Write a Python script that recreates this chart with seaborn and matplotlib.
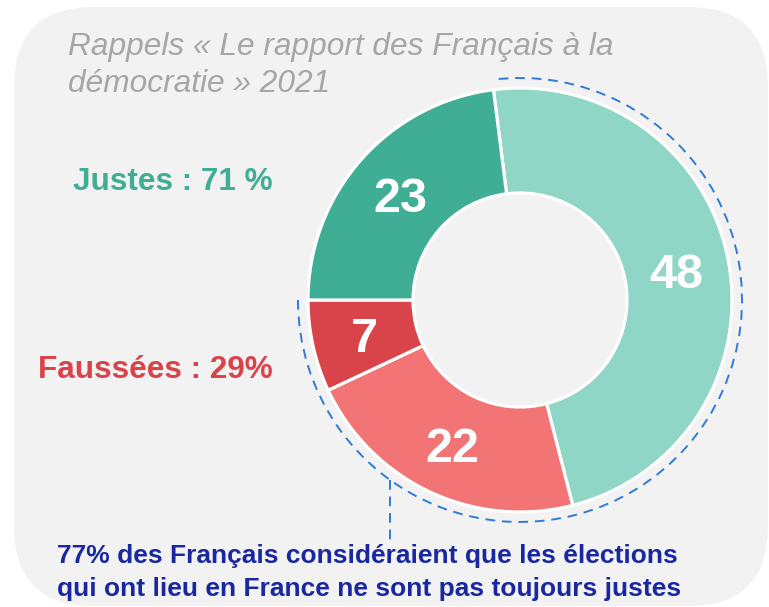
import matplotlib
matplotlib.use("Agg")
import matplotlib.pyplot as plt
import seaborn as sns
import numpy as np
from matplotlib.patches import FancyBboxPatch, Arc

# ---- data ----
segments = ["Toujours justes", "Pas toujours justes", "Faussées souvent", "Justes (autre)"]
values = [48, 22, 7, 23]
seg_colors = ["#8fd6c6", "#f27475", "#d9434a", "#3fae95"]
title_lines = ["Rappels « Le rapport des Français à la", "démocratie » 2021"]
justes_label = "Justes : 71 %"
faussees_label = "Faussées : 29%"
note_lines = ["77% des Français considéraient que les élections",
              "qui ont lieu en France ne sont pas toujours justes"]
highlight_share = 77  # % covered by the dashed arc

sns.set_theme(style="white")
plt.rcParams['font.family'] = ['Liberation Sans', 'DejaVu Sans']

W, H = 769, 607
fig = plt.figure(figsize=(W / 100, H / 100), dpi=100)
fig.patch.set_facecolor("white")
ax = fig.add_axes([0, 0, 1, 1])
ax.set_xlim(0, W)
ax.set_ylim(0, H)
ax.set_aspect("equal")
ax.axis("off")

def Y(y):
    return H - y

# background rounded panel
bg = FancyBboxPatch((14 + 80, Y(606) + 80), (768 - 14) - 160, (606 - 7) - 160,
                    boxstyle="round,pad=80", facecolor="#f2f2f2", edgecolor="none", zorder=0)
ax.add_patch(bg)

cx, cy = 520, Y(300)
R = 212
inner = 107
start = 180 - values[-1] / sum(values) * 360

wedges, texts, autotexts = ax.pie(
    values, colors=seg_colors, startangle=start, counterclock=False,
    radius=R, center=(cx, cy), frame=True,
    wedgeprops=dict(width=R - inner, edgecolor="white", linewidth=2.3),
    autopct=lambda p: f"{p:.0f}", pctdistance=((R + inner) / 2) / R,
    textprops=dict(color="white", fontsize=35, fontweight="bold"))
for w in wedges:
    w.set_zorder(2)
for t in autotexts:
    t.set_zorder(3)
    x0, y0 = t.get_position()
    t.set_position((x0, y0 - 5))
ax.set_xlim(0, W)
ax.set_ylim(0, H)
ax.axis("off")

# dashed arc covering highlighted share
end_ang = start - highlight_share / 100 * 360
arc_r = 222
dash = (0, (5, 3.5))
arc = Arc((cx, cy), 2 * arc_r, 2 * arc_r, theta1=end_ang + 360, theta2=start + 360,
          color="#2f7bd9", lw=1.4, ls=dash, zorder=1)
ax.add_patch(arc)
# vertical connector
ang = np.degrees(np.arccos((390 - cx) / arc_r))
y_on_arc = cy - arc_r * np.sin(np.radians(ang))
ax.plot([390, 390], [y_on_arc, Y(542)], color="#2f7bd9", lw=1.4, ls=dash, zorder=1)

# title
ax.text(68, Y(47), title_lines[0], fontsize=22.8, style="italic", color="#a6a6a6",
        ha="left", va="center", zorder=4)
ax.text(68, Y(84), title_lines[1], fontsize=22.8, style="italic", color="#a6a6a6",
        ha="left", va="center", zorder=4)

# group labels
ax.text(273, Y(182), justes_label, fontsize=22.7, fontweight="bold", color="#3fae95",
        ha="right", va="center", zorder=4)
ax.text(273, Y(370), faussees_label, fontsize=22.7, fontweight="bold", color="#d9434a",
        ha="right", va="center", zorder=4)

# note
ax.text(57, Y(556), note_lines[0], fontsize=19, fontweight="bold", color="#1a28a0",
        ha="left", va="center", zorder=4)
ax.text(57, Y(589), note_lines[1], fontsize=19, fontweight="bold", color="#1a28a0",
        ha="left", va="center", zorder=4)

fig.savefig("out.png", dpi=100)
